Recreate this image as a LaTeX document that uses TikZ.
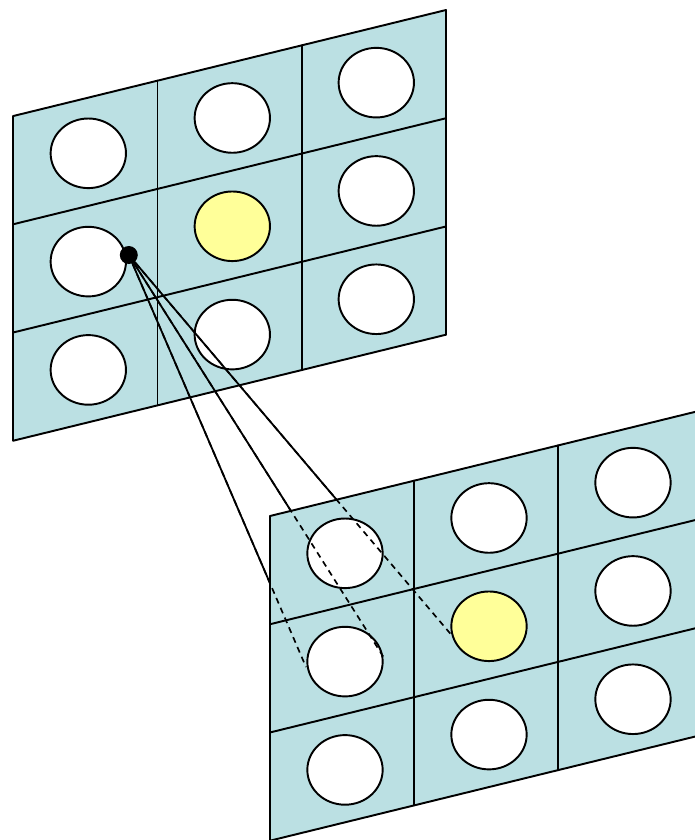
\documentclass[tikz,border=0pt]{standalone}
\usetikzlibrary{shapes.geometric}
\definecolor{panelblue}{HTML}{BBE0E3}
\definecolor{cellyellow}{HTML}{FFFF99}
\tikzset{
  edge/.style={line width=1.45pt, line cap=round},
  hole/.style={ellipse, draw, line width=1.45pt, minimum width=56.5pt, minimum height=52.2pt, inner sep=0pt},
  ray/.style={line width=1.35pt},
  dashray/.style={line width=1.25pt, dash pattern=on 4.5pt off 3.5pt},
  srcdot/.style={circle, fill=black, minimum size=13.5pt, inner sep=0pt},
  panel/.pic={
    \fill[panelblue] (0,0) -- (432.7,-106) -- (432.7,218.7) -- (0,324.7) -- cycle;
    \foreach \k in {0,1,2,3} \draw[edge] (0,\k*108.23) -- (432.7,-106+\k*108.23);
    \foreach \c in {0,...,3} \draw[edge] (\c*144.23,-\c*35.33) -- ++(0,324.7);
    \foreach \r in {0,1,2} \foreach \c in {0,1,2} {
      \ifnum\r\c=11 \def\holefill{cellyellow}\else\def\holefill{white}\fi
      \node[hole, fill=\holefill] (-c\r\c) at (75+144.0*\c, 37.3-35.33*\c+108.3*\r) {};
    }
  }
}
\begin{document}
\begin{tikzpicture}[x=0.75pt, y=-0.75pt]
  \useasboundingbox (0,0) rectangle (694,840);
  \fill[white] (0,0) rectangle (694,840);
  % upper layer
  \pic (upper) at (13.3,116) {panel};
  % source point
  \node[srcdot] (src) at (128.8,255) {};
  \coordinate (e1) at (306,667);
  \coordinate (e2) at (383.5,657);
  \coordinate (e3) at (451.5,635);
  \foreach \e in {e1,e2,e3} \draw[ray] (src.center) -- (\e);
  % lower layer
  \pic (lower) at (270,516) {panel};
  \foreach \e in {e1,e2,e3} \draw[dashray] (src.center) -- (\e);
\end{tikzpicture}
\end{document}
